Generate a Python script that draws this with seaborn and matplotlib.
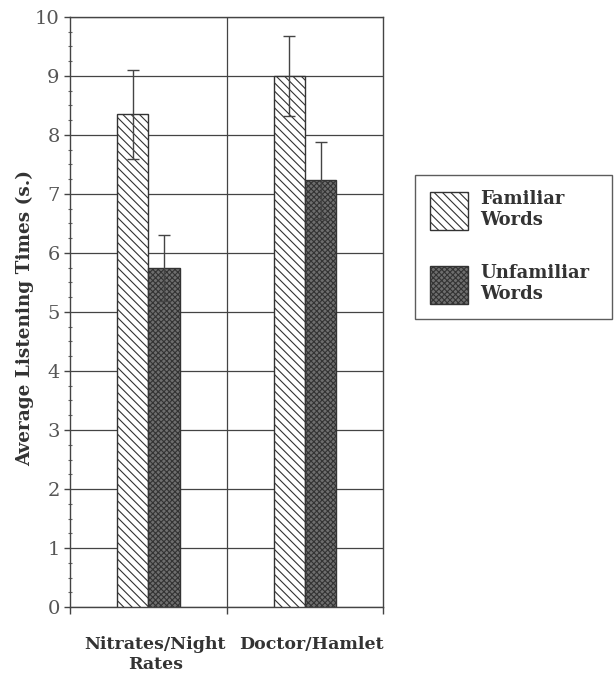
import matplotlib
matplotlib.use("Agg")
import matplotlib.pyplot as plt
import matplotlib.transforms as mtransforms
import seaborn as sns
import pandas as pd
import numpy as np
from matplotlib.patches import Patch
from matplotlib.ticker import MultipleLocator, FixedLocator

categories = ["Nitrates/Night\nRates", "Doctor/Hamlet"]
conditions = ["Familiar\nWords", "Unfamiliar\nWords"]
familiar = [8.35, 9.0]
unfamiliar = [5.75, 7.23]
familiar_err = [0.75, 0.68]
unfamiliar_err = [0.56, 0.65]

df = pd.DataFrame({
    "category": categories * 2,
    "condition": [conditions[0]] * 2 + [conditions[1]] * 2,
    "value": familiar + unfamiliar,
})
errs = familiar_err + unfamiliar_err

sns.set_theme(style="white")
plt.rcParams["font.family"] = ["DejaVu Serif"]
plt.rcParams["hatch.linewidth"] = 0.8

fig = plt.figure(figsize=(6.15, 6.76), dpi=100)
ax = fig.add_axes([0.114, 0.102, 0.509, 0.873])

sns.barplot(data=df, x="category", y="value", hue="condition", order=categories,
            hue_order=conditions, width=0.4, ax=ax, legend=False,
            edgecolor="#222222", linewidth=1.0, errorbar=None, zorder=3)

styles = [dict(facecolor="white", hatch="\\\\\\\\"), dict(facecolor="#6e6e6e", hatch="xxxxxx")]
bars = ax.patches
for i, p in enumerate(bars):
    st = styles[i // 2]
    p.set_facecolor(st["facecolor"])
    p.set_hatch(st["hatch"])
    p.set_edgecolor("#333333")
    x = p.get_x() + p.get_width() / 2
    ax.errorbar(x, p.get_height(), yerr=errs[i], color="#444444", capsize=4,
                elinewidth=1.0, capthick=1.0, zorder=4)

ax.set_xlim(-0.5, 1.5)
ax.set_ylim(0, 10)
ax.yaxis.set_major_locator(MultipleLocator(1))
ax.yaxis.set_minor_locator(MultipleLocator(0.25))
ax.grid(axis="y", which="major", color="#444444", linewidth=0.9, zorder=0)
ax.axvline(0.5, color="#444444", linewidth=0.9, zorder=0)
ax.set_axisbelow(True)

for s in ax.spines.values():
    s.set_visible(True)
    s.set_color("#444444")
    s.set_linewidth(1.0)

ax.tick_params(axis="y", which="major", direction="out", length=4, width=1,
               labelsize=14, colors="#444444", labelcolor="#555555", left=True)
ax.tick_params(axis="y", which="minor", direction="inout", length=3, width=0.8,
               colors="#666666", left=True)
ax.xaxis.set_minor_locator(FixedLocator([-0.5, 0.5, 1.5]))
ax.tick_params(axis="x", which="minor", direction="out", length=5, width=1,
               colors="#444444", bottom=True)
ax.tick_params(axis="x", which="major", length=0, pad=21, labelsize=12.5)
shift = mtransforms.ScaledTranslation(7 / 100, 0, fig.dpi_scale_trans)
for lab in ax.get_xticklabels():
    lab.set_fontweight("bold")
    lab.set_color("#333333")
    lab.set_transform(lab.get_transform() + shift)

ax.set_xlabel("")
ax.set_ylabel("Average Listening Times (s.)", fontsize=13.3, fontweight="bold",
              color="#333333", labelpad=5)
ax.yaxis.set_label_coords(-0.115, 0.49)

handles = [Patch(facecolor=styles[k]["facecolor"], hatch=styles[k]["hatch"],
                 edgecolor="#333333", label=conditions[k]) for k in range(2)]
leg = fig.legend(handles=handles, loc="upper left",
                 bbox_to_anchor=(0.675, 0.541, 0.320, 0.2), mode="expand",
                 frameon=True, fancybox=False, edgecolor="#333333", fontsize=13,
                 handlelength=2.1, handleheight=2.86, labelspacing=1.85,
                 borderpad=0.85, handletextpad=0.65, borderaxespad=0)
leg.get_frame().set_linewidth(1.0)
for t in leg.get_texts():
    t.set_fontweight("bold")
    t.set_color("#333333")

fig.savefig("out.png", dpi=100)
